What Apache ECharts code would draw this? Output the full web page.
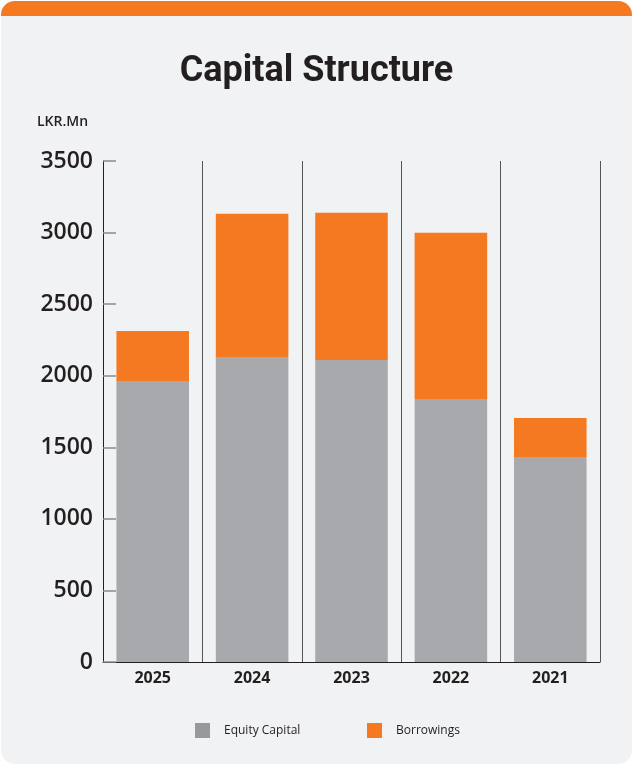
<!DOCTYPE html>
<html><head><meta charset="utf-8">
<script src="https://cdn.jsdelivr.net/npm/echarts@6/dist/echarts.min.js"></script>
<style>
html,body{margin:0;padding:0;background:#ffffff;width:633px;height:765px;overflow:hidden;}
#card{position:absolute;left:1px;top:1px;width:631px;height:763px;background:#f1f2f4;border-radius:14px;overflow:hidden;}
#bar{position:absolute;left:0;top:0;width:631px;height:15px;background:#f47920;}
#chart{position:absolute;left:0;top:0;width:633px;height:765px;}
</style></head>
<body>
<div id="card"><div id="bar"></div></div>
<div id="chart"></div>
<script>
const categories = ['2025','2024','2023','2022','2021'];
const equityCapital = [1963, 2131, 2110, 1838, 1432];
const borrowings = [350, 1000, 1028, 1160, 273];
const yTicks = [0, 500, 1000, 1500, 2000, 2500, 3000, 3500];

const FONT = '"Open Sans", Lato, sans-serif';
const chart = echarts.init(document.getElementById('chart'), null, {renderer:'canvas'});
chart.setOption({
  backgroundColor: 'transparent',
  animation: false,
  title: [{
    text: 'Capital Structure', left: 'center', top: 54, padding: 0,
    textStyle: {fontFamily: 'Roboto, sans-serif', fontSize: 36, fontWeight: 'bold', color: '#231f20'}
  },{
    text: 'LKR.Mn', left: 37, top: 115, padding: 0,
    textStyle: {fontFamily: FONT, fontSize: 14, fontWeight: 600, color: '#231f20'}
  }],
  legend: [{
    data: [{name:'Equity Capital', itemStyle:{color:'#98999c'}}],
    left: 195, top: 723, padding: 0, itemWidth: 15, itemHeight: 15, itemGap: 0,
    icon: 'rect',
    textStyle: {fontFamily: FONT, fontSize: 12, color: '#231f20', padding: [0,0,0,9]}
  },{
    data: [{name:'Borrowings', itemStyle:{color:'#f47920'}}],
    left: 367, top: 723, padding: 0, itemWidth: 15, itemHeight: 15, itemGap: 0,
    icon: 'rect',
    textStyle: {fontFamily: FONT, fontSize: 12, color: '#231f20', padding: [0,0,0,9]}
  }],
  grid: {left: 103, right: 33, top: 161, bottom: 103, containLabel: false},
  xAxis: {
    type: 'category', data: categories, boundaryGap: true,
    axisLine: {show: true, lineStyle: {color: '#231f20', width: 1}},
    axisTick: {show: false},
    axisLabel: {fontFamily: FONT, fontSize: 16, fontWeight: 'bold', color: '#231f20', margin: 8},
    splitLine: {show: true, lineStyle: {color: '#555558', width: 1}}
  },
  yAxis: {
    type: 'value', min: 0, max: 3500, interval: 500,
    axisLine: {show: true, lineStyle: {color: '#231f20', width: 1}},
    axisTick: {show: true, inside: true, length: 13, lineStyle: {color: '#8a8a8d', width: 1.5}},
    axisLabel: {fontFamily: FONT, fontSize: 23, fontWeight: 600, color: '#231f20', margin: 10,
      formatter: v => yTicks.includes(v) ? String(v) : ''},
    splitLine: {show: false}
  },
  series: [{
    name: 'Equity Capital', type: 'bar', stack: 'total', data: equityCapital,
    barCategoryGap: '27%', itemStyle: {color: '#a8a9ac'}
  },{
    name: 'Borrowings', type: 'bar', stack: 'total', data: borrowings,
    barCategoryGap: '27%', itemStyle: {color: '#f47920'}
  }]
});
</script>
</body></html>
